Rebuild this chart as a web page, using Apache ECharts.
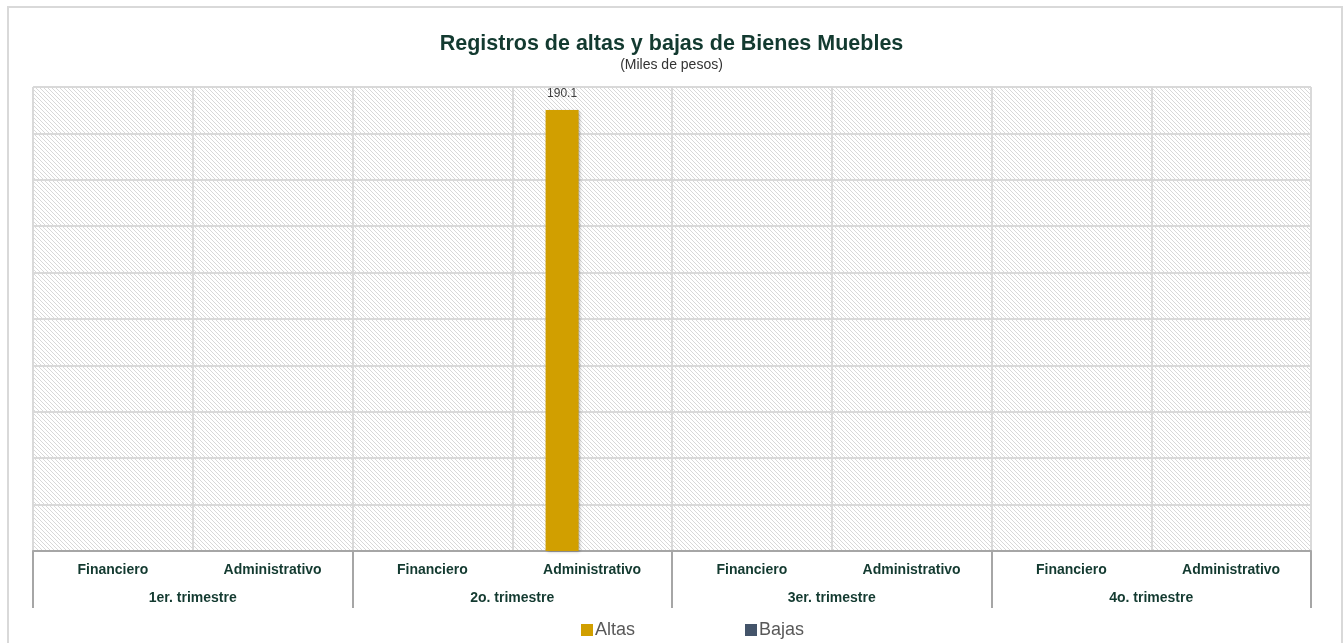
<!DOCTYPE html>
<html>
<head>
<meta charset="utf-8">
<script src="https://cdn.jsdelivr.net/npm/echarts@6/dist/echarts.min.js"></script>
<style>
  html, body { margin: 0; padding: 0; background: #fff; }
  #main { width: 1343px; height: 643px; }
</style>
</head>
<body>
<div id="main"></div>
<script>
// datos
var areas = ['Financiero', 'Administrativo', 'Financiero', 'Administrativo',
             'Financiero', 'Administrativo', 'Financiero', 'Administrativo'];
var trimestres = ['1er. trimestre', '2o. trimestre', '3er. trimestre', '4o. trimestre'];
var altas = [0, 0, 0, 190.1, 0, 0, 0, 0];
var bajas = [0, 0, 0, 0, 0, 0, 0, 0];

// trama diagonal del fondo
function hatch() {
  var c = document.createElement('canvas');
  c.width = 4; c.height = 4;
  var ctx = c.getContext('2d');
  ctx.fillStyle = '#ffffff';
  ctx.fillRect(0, 0, 4, 4);
  ctx.fillStyle = '#d8d8d8';
  for (var i = 0; i < 4; i++) {
    ctx.fillRect(i, i, 1, 1);
  }
  return c;
}

var chart = echarts.init(document.getElementById('main'));

var txtColor = '#133a30';
var font = 'Liberation Sans, Arial';

var option = {
  animation: false,
  title: {
    text: 'Registros de altas y bajas de Bienes Muebles',
    subtext: '(Miles de pesos)',
    left: 'center',
    top: 28,
    itemGap: 3,
    textStyle: { fontFamily: font, fontSize: 21.5, fontWeight: 'bold', color: txtColor },
    subtextStyle: { fontFamily: font, fontSize: 14, color: '#333' }
  },
  graphic: [{
    type: 'rect',
    shape: { x: 8, y: 7, width: 1334, height: 660 },
    style: { fill: 'none', stroke: '#d9d9d9', lineWidth: 2 },
    silent: true
  }],
  legend: {
    top: 616,
    left: 576,
    itemWidth: 12,
    itemHeight: 12,
    itemGap: 110,
    icon: 'rect',
    textStyle: { fontFamily: font, fontSize: 18, color: '#595959', padding: [0, 0, 0, -3] },
    data: ['Altas', 'Bajas']
  },
  grid: {
    left: 33,
    right: 32,
    top: 87,
    bottom: 92,
    show: true,
    borderWidth: 0,
    backgroundColor: { image: hatch(), repeat: 'repeat' }
  },
  xAxis: [{
    type: 'category',
    data: areas,
    position: 'bottom',
    axisLine: { show: true, lineStyle: { color: '#a6a6a6', width: 2 } },
    axisTick: { show: false },
    splitLine: { show: true, interval: 0, lineStyle: { color: '#d9d9d9', width: 2 } },
    axisLabel: { interval: 0, margin: 12, fontFamily: font, fontSize: 14, fontWeight: 'bold', color: txtColor }
  }, {
    type: 'category',
    data: trimestres,
    position: 'bottom',
    axisLine: { show: false },
    axisTick: { show: true, interval: 0, length: 57, lineStyle: { color: '#a6a6a6', width: 2 } },
    splitLine: { show: false },
    axisLabel: { interval: 0, margin: 40, fontFamily: font, fontSize: 14, fontWeight: 'bold', color: txtColor }
  }],
  yAxis: {
    type: 'value',
    min: 0,
    max: 200,
    interval: 20,
    axisLine: { show: false },
    axisTick: { show: false },
    axisLabel: { show: false },
    splitLine: { show: true, lineStyle: { color: '#d9d9d9', width: 2 } }
  },
  series: [{
    name: 'Altas',
    type: 'bar',
    data: altas,
    barWidth: 33,
    barGap: '82%',
    itemStyle: {
      color: '#d19f00',
      shadowColor: 'rgba(0,0,0,0.35)',
      shadowBlur: 3,
      shadowOffsetX: 1,
      shadowOffsetY: 1
    },
    label: {
      show: true,
      position: 'top',
      distance: 10,
      fontFamily: font,
      fontSize: 12,
      color: '#404040',
      formatter: function (p) { return p.value ? p.value.toFixed(1) : ''; }
    }
  }, {
    name: 'Bajas',
    type: 'bar',
    data: bajas,
    barWidth: 33,
    itemStyle: { color: '#44546a' },
    label: { show: false }
  }]
};

chart.setOption(option);
</script>
</body>
</html>
